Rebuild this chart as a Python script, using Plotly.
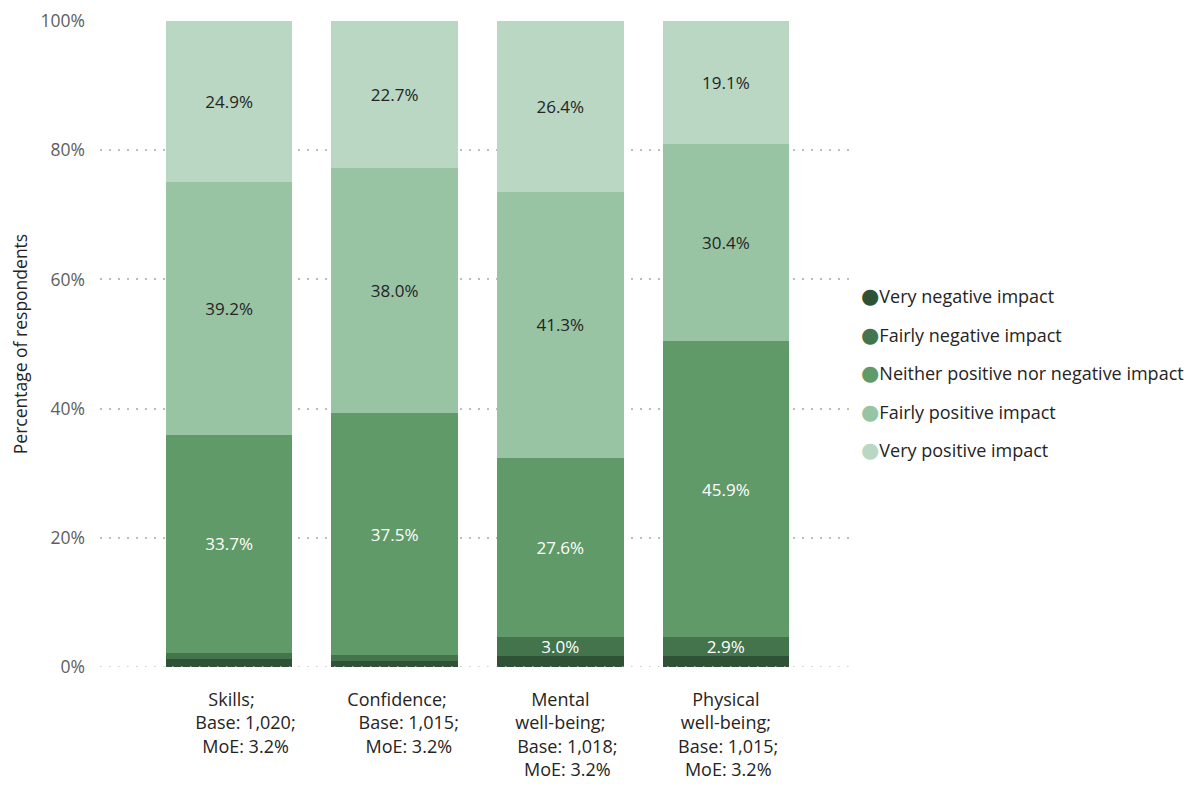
import plotly.graph_objects as go

NB = "\u00a0"
categories = [NB + "Skills;<br>" + NB * 7 + "Base: 1,020;<br>" + NB * 7 + "MoE: 3.2%",
              NB + "Confidence;<br>" + NB * 6 + "Base: 1,015;<br>" + NB * 6 + "MoE: 3.2%",
              "Mental<br>well-being;<br>" + NB * 3 + "Base: 1,018;<br>" + NB * 3 + "MoE: 3.2%",
              "Physical<br>well-being;<br>" + NB + "Base: 1,015;<br>" + NB + "MoE: 3.2%"]

very_negative = [1.2, 1.0, 1.7, 1.7]
fairly_negative = [1.0, 0.8, 3.0, 2.9]
neither = [33.7, 37.5, 27.6, 45.9]
fairly_positive = [39.2, 38.0, 41.3, 30.4]
very_positive = [24.9, 22.7, 26.4, 19.1]

series = [
    ("Very negative impact", very_negative, "#2f5136", "white"),
    ("Fairly negative impact", fairly_negative, "#44744c", "white"),
    ("Neither positive nor negative impact", neither, "#5f9a68", "white"),
    ("Fairly positive impact", fairly_positive, "#99c4a3", "#252423"),
    ("Very positive impact", very_positive, "#b9d7c3", "#252423"),
]

FONT = "Open Sans, Noto Sans, sans-serif"
GRID_DASH = "1.5px,7.5px"
GRID_COLOR = "#bdbdbd"
fig = go.Figure()
idx = list(range(len(categories)))
for name, vals, color, tcol in series:
    fig.add_trace(go.Bar(
        x=idx, y=vals, name=name, marker=dict(color=color, line=dict(width=0)),
        text=[f"{v:.1f}%" if v >= 2.5 else "" for v in vals],
        textposition="inside", insidetextanchor="middle",
        textfont=dict(color=tcol, size=17, family=FONT),
        showlegend=False, hoverinfo="skip"))
    fig.add_trace(go.Scatter(
        x=[None], y=[None], mode="markers", legendgroup=name,
        name=f"<span style='color:{color};font-family:DejaVu Sans;font-size:21px'>●</span>{name}",
        marker=dict(symbol="circle", size=1, color="rgba(0,0,0,0)")))

# dotted baseline gridline at 0%
fig.add_hline(y=0, line=dict(color=GRID_COLOR, dash=GRID_DASH, width=1.5), layer="above")

fig.update_layout(
    barmode="stack", bargap=0.235,
    width=1194, height=787,
    margin=dict(l=92, r=347, t=13, b=128),
    plot_bgcolor="white", paper_bgcolor="white",
    font=dict(family=FONT, size=17, color="#333333"),
    uniformtext=dict(minsize=10, mode="show"),
    legend=dict(x=0.955, y=0.455, xanchor="left", yanchor="middle",
                bgcolor="rgba(0,0,0,0)",
                font=dict(size=18, color="#252423"), tracegroupgap=12,
                traceorder="grouped", itemwidth=30),
    xaxis=dict(tickmode="array", tickvals=idx, ticktext=categories,
               range=[-0.78, 3.78], showgrid=False, zeroline=False, automargin=False,
               showline=False, ticks="", ticklen=0, ticklabelstandoff=20,
               tickfont=dict(size=18, color="#252423")),
    yaxis=dict(range=[0, 100], tickvals=[0, 20, 40, 60, 80, 100],
               ticktext=["0%", "20%", "40%", "60%", "80%", "100%"], automargin=False,
               showgrid=True, gridcolor=GRID_COLOR, griddash=GRID_DASH, gridwidth=1.5,
               zeroline=False, showline=False, ticklabelstandoff=14,
               title=dict(text="Percentage of respondents", font=dict(size=17.5, color="#252423"), standoff=12),
               tickfont=dict(size=17.5, color="#605e5c")),
)
fig.write_html("out.html")
